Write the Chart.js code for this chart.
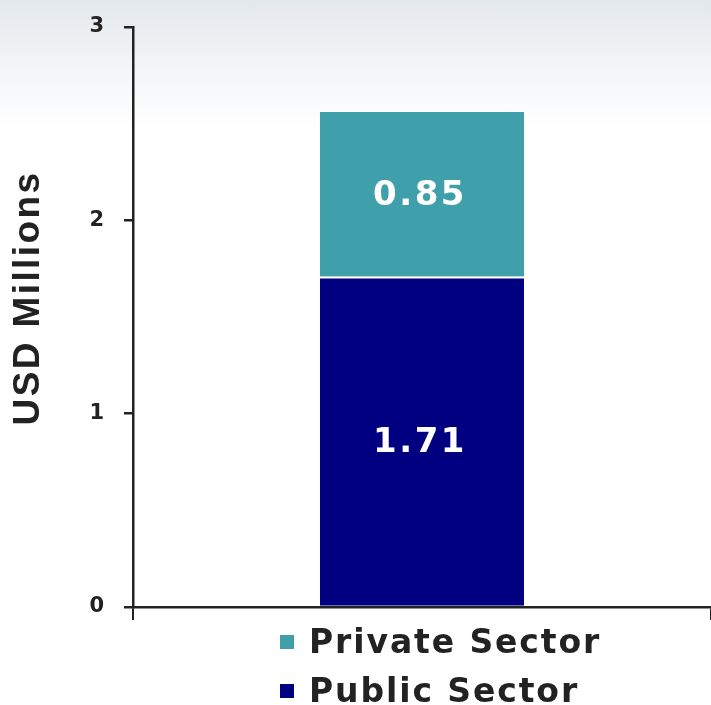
<!DOCTYPE html>
<html>
<head>
<meta charset="utf-8">
<title>Funding by sector</title>
<script src="https://cdn.jsdelivr.net/npm/chart.js@4/dist/chart.umd.min.js"></script>
<style>
  html, body { margin: 0; padding: 0; }
  body {
    width: 711px; height: 705px; overflow: hidden; position: relative;
    background: linear-gradient(180deg, #e3e8ec 0px, #eef1f4 45px, #f9fafb 95px, #ffffff 130px);
  }
  #wrap { position: absolute; left: 0; top: 0; width: 711px; height: 705px; }
  #legend { position: absolute; left: 280px; top: 617px; font-family: "DejaVu Sans", Verdana, sans-serif; }
  .item { display: flex; align-items: center; height: 49px; font-weight: bold; font-size: 33px; letter-spacing: 1.9px; color: #222; }
  .box { width: 14px; height: 14px; margin-right: 15px; }
</style>
</head>
<body>
<div id="wrap"><canvas id="chart" width="711" height="705"></canvas></div>
<div id="legend"></div>
<script>
// categories and series
const categories = [''];
const publicSector = [1.71];
const privateSector = [0.85];
const yTicks = [0, 1, 2, 3];
const axisTitle = 'USD Millions';

const navy = '#000080';
const teal = '#3f9faa';
const ink = '#222222';

// white value labels centred in each stacked segment, plus the rotated axis title
const segmentLabels = {
  id: 'segmentLabels',
  afterDatasetsDraw(chart) {
    const ctx = chart.ctx;
    ctx.save();
    ctx.fillStyle = '#ffffff';
    ctx.font = 'bold 34px "DejaVu Sans", Verdana, sans-serif';
    ctx.letterSpacing = '2.5px';
    ctx.textAlign = 'center';
    ctx.textBaseline = 'middle';
    chart.data.datasets.forEach((ds, i) => {
      chart.getDatasetMeta(i).data.forEach((bar, j) => {
        const p = bar.getProps(['x', 'y', 'base'], true);
        ctx.fillText(ds.data[j].toFixed(2), p.x - 2, (p.y + p.base) / 2 + 2);
      });
    });
    ctx.restore();

    ctx.save();
    ctx.fillStyle = ink;
    ctx.font = 'bold 37px "Liberation Sans", Arial, sans-serif';
    ctx.letterSpacing = '2.4px';
    ctx.textAlign = 'center';
    ctx.textBaseline = 'middle';
    ctx.translate(29, 298);
    ctx.rotate(-Math.PI / 2);
    ctx.fillText(axisTitle, 0, 0);
    ctx.restore();
  }
};

new Chart(document.getElementById('chart'), {
  type: 'bar',
  data: {
    labels: categories,
    datasets: [
      {
        label: 'Public Sector',
        data: publicSector,
        backgroundColor: navy,
        borderColor: '#ffffff',
        borderWidth: { top: 2, left: 0, right: 0, bottom: 0 },
        borderSkipped: false,
        barPercentage: 0.353,
        categoryPercentage: 1
      },
      {
        label: 'Private Sector',
        data: privateSector,
        backgroundColor: teal,
        borderWidth: 0,
        barPercentage: 0.353,
        categoryPercentage: 1
      }
    ]
  },
  options: {
    responsive: false,
    animation: false,
    layout: { padding: { top: 27, right: 0, left: 0, bottom: 0 } },
    plugins: { legend: { display: false }, tooltip: { enabled: false } },
    scales: {
      x: {
        stacked: true,
        offset: true,
        grid: { display: true, drawOnChartArea: false, drawTicks: true, tickLength: 13, color: ink, lineWidth: 2, offset: true },
        border: { display: true, color: ink, width: 2.5 },
        ticks: { display: false },
        afterFit(scale) { scale.height = 98; }
      },
      y: {
        stacked: true,
        min: 0,
        max: 3,
        afterBuildTicks(scale) { scale.ticks = yTicks.map(v => ({ value: v })); },
        grid: { display: true, drawOnChartArea: false, drawTicks: true, tickLength: 9, color: ink, lineWidth: 2.5 },
        border: { display: true, color: ink, width: 2.5 },
        ticks: {
          color: ink,
          padding: 20,
          font: { family: '"DejaVu Sans", Verdana, sans-serif', size: 21, weight: 'bold' }
        },
        afterFit(scale) {
          // fixed axis width; let the layout padding alone decide the top edge
          scale.width = 133;
          scale.paddingTop = 0;
          scale.paddingBottom = 0;
        }
      }
    }
  },
  plugins: [segmentLabels]
});

// legend, listed top to bottom in stacking order
const legend = document.getElementById('legend');
[['Private Sector', teal], ['Public Sector', navy]].forEach(([name, colour]) => {
  const row = document.createElement('div');
  row.className = 'item';
  row.innerHTML = '<span class="box" style="background:' + colour + '"></span>' + name;
  legend.appendChild(row);
});
</script>
</body>
</html>
